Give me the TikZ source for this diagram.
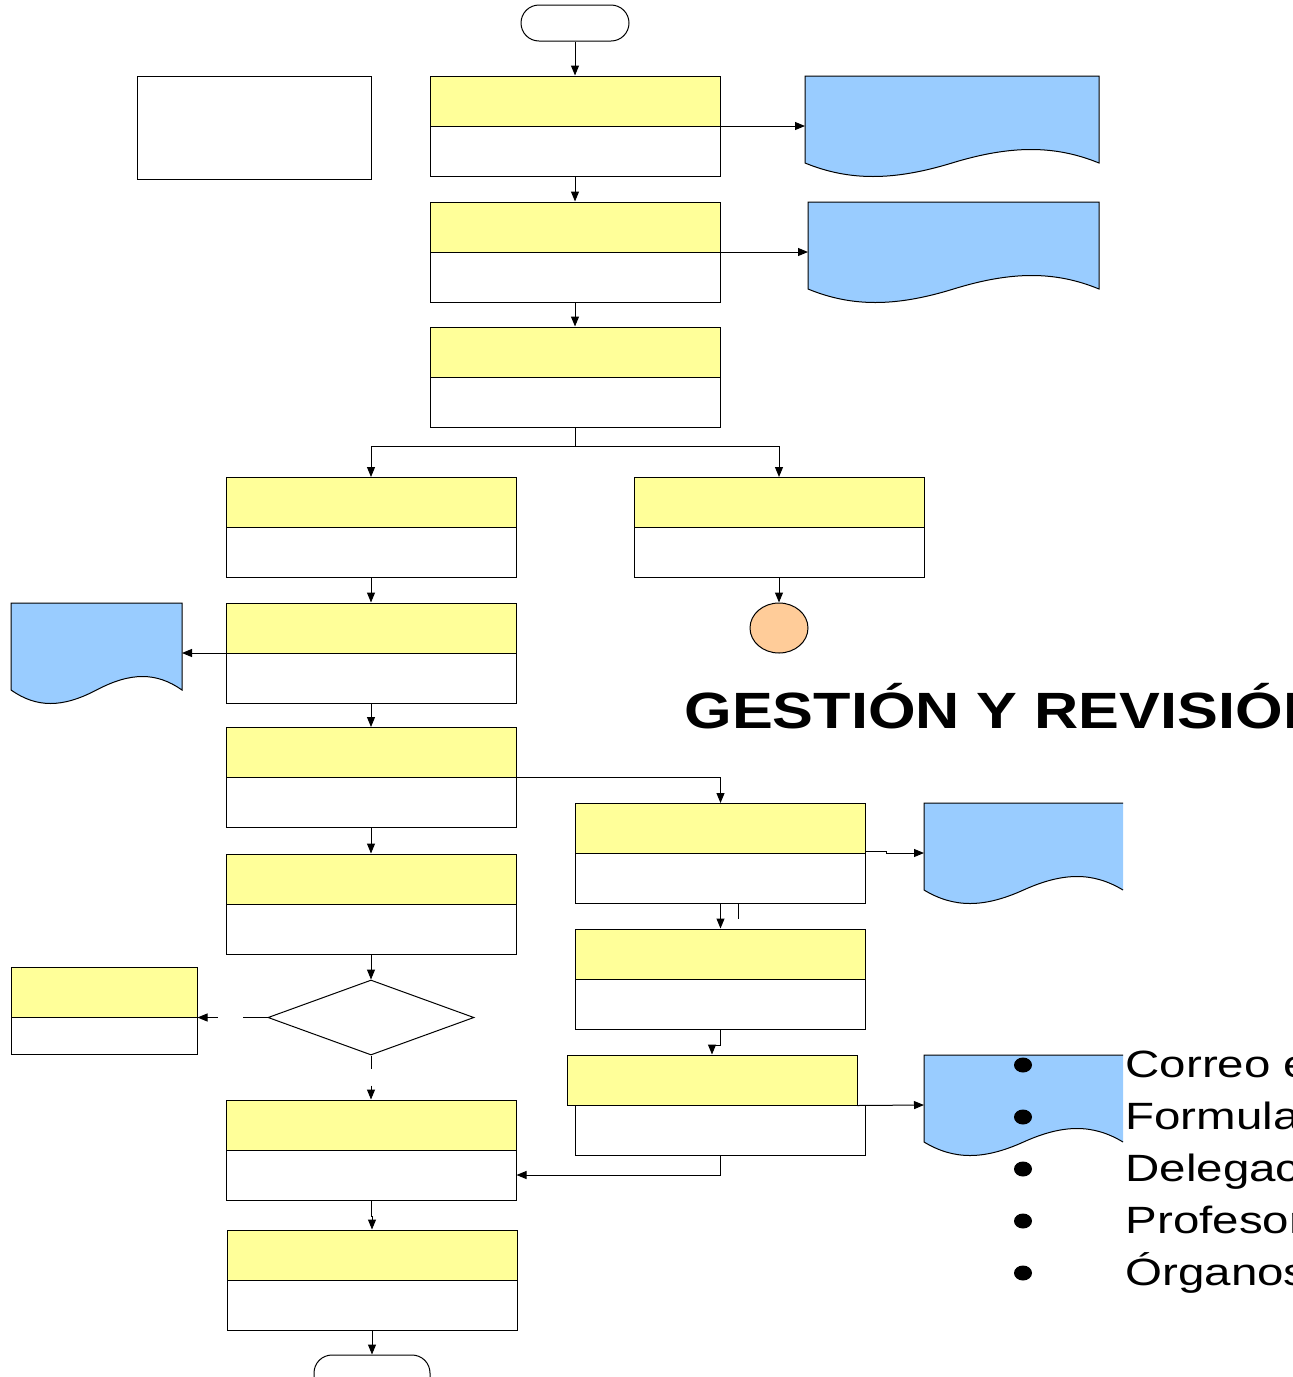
\documentclass[tikz,border=0pt]{standalone}
\usepackage{fontspec}
\setmainfont{Liberation Sans}
\newfontfamily\titlefont[FakeStretch=1.2]{Liberation Sans}
\newfontfamily\bulletfont[FakeStretch=1.25]{Liberation Sans}
\usetikzlibrary{arrows.meta,shapes.geometric,calc}
\definecolor{ylw}{HTML}{FFFF99}
\definecolor{blu}{HTML}{99CCFF}
\definecolor{org}{HTML}{FFCC99}
% document shape: x1 y1 x2 y2 closing name
\newcommand\docshape[6]{%
  \filldraw[docsty] (#3,{#4-13}) .. controls ({#1+0.85*(#3-#1)},{#4-31}) and ({#1+0.7*(#3-#1)},{#4-31}) .. ({(#1+#3)/2},{#4-13}) .. controls ({#1+0.3*(#3-#1)},{#4+5}) and ({#1+0.15*(#3-#1)},{#4+5}) .. (#1,{#4-13}) -- (#1,#2) -- (#3,#2) #5;
  \node[docn, minimum width={#3-#1}, minimum height={#4-#2}] (#6) at ({(#1+#3)/2},{(#2+#4)/2}) {};}
\begin{document}
\begin{tikzpicture}[x=1pt,y=-1pt,line width=1pt,
  arr/.style={-{Triangle[length=10pt,width=8pt]}},
  proc/.style={draw, fill=white, inner sep=0pt, minimum width=290pt, minimum height=100pt,
    path picture={\fill[ylw] (path picture bounding box.north west) rectangle ([yshift=-#1]path picture bounding box.north east);
      \draw[line width=1pt] ([yshift=-#1]path picture bounding box.north west) -- ([yshift=-#1]path picture bounding box.north east);}},
  proc/.default=50pt,
  term/.style={draw, fill=white, rounded corners=18pt, inner sep=0pt},
  wbox/.style={draw, fill=white, inner sep=0pt},
  docn/.style={inner sep=0pt, outer sep=0pt},
  docsty/.style={fill=blu, draw=black, line width=1pt},
]
\useasboundingbox (0,0) rectangle (1293,1377);
\clip (0,0) rectangle (1293,1377);

% documents
\docshape{805}{76}{1099}{176}{-- cycle}{d1}
\docshape{808}{202}{1099}{302}{-- cycle}{d2}
\docshape{11}{603}{182}{703}{-- cycle}{d3}
\docshape{924}{803}{1123}{903}{}{d4}
\docshape{924}{1055}{1123}{1155}{}{d5}

% nodes
\node[term, minimum width=108pt, minimum height=36pt] (start) at (575,23) {};
\node[wbox, minimum width=234pt, minimum height=103pt] (lw) at (254,127.5) {};
\node[proc] (b1) at (575,126) {};
\node[proc] (b2) at (575,252) {};
\node[proc] (b3) at (575,377) {};
\node[proc] (b4l) at (371,527.5) {};
\node[proc] (b4r) at (779,527.5) {};
\node[draw, fill=org, ellipse, minimum width=58pt, minimum height=50pt, inner sep=0pt] (circ) at (779,628) {};
\node[proc] (b5) at (371,653) {};
\node[proc] (b6) at (371,777.5) {};
\node[proc] (b7) at (720.5,853.5) {};
\node[proc] (b8) at (720.5,979) {};
\node[draw, fill=ylw, inner sep=0pt, minimum width=290pt, minimum height=50pt] (b9y) at (712,1080) {};
\node[wbox, minimum width=290pt, minimum height=50pt] (b9w) at (720.5,1130) {};
\node[proc] (bl) at (371,904) {};
\node[draw, fill=white, diamond, aspect=2.75, minimum width=206pt, minimum height=75pt, inner sep=0pt] (dia) at (371,1017.5) {};
\node[proc=50pt, minimum width=186pt, minimum height=87pt] (lb) at (104,1010.5) {};
\node[proc] (b10) at (371,1150) {};
\node[proc] (b11) at (372,1280) {};
\node[term, minimum width=116pt, minimum height=40pt] (end) at (372,1375) {};

% connectors
\draw[arr] (start.south) -- (b1.north);
\draw[arr] (b1.south) -- (b2.north);
\draw[arr] (b2.south) -- (b3.north);
\draw[arr] (b1.east) -- (d1.west);
\draw[arr] (b2.east) -- (d2.west);
\draw[arr] (b3.south) -- ++(0,19) -| (b4l.north);
\draw[arr] (b3.south) -- ++(0,19) -| (b4r.north);
\draw[arr] (b4r.south) -- (circ.north);
\draw[arr] (b4l.south) -- (b5.north);
\draw[arr] (b5.west) -- (d3.east);
\draw[arr] (b5.south) -- (b6.north);
\draw[arr] (b6.east) -| (b7.north);
\draw[arr] (b6.south) -- (bl.north);
\draw[arr] ([yshift=2pt]b7.east) -- ++(20,0) |- (d4.west);
\draw ([xshift=18pt]b7.south) -- ++(0,15);
\draw[arr] (b7.south) -- (b8.north);
\draw[arr] (b8.south) -- ++(0,16) -| (b9y.north);
\draw[arr] (b9y.south east) -- (d5.west);
\draw[arr] (b9w.south) |- ([yshift=-25pt]b10.east);
\draw[arr] (bl.south) -- (dia.north);
\draw (dia.west) -- ++(-25,0);
\draw[arr] ([xshift=-50pt]dia.west) -- (dia.west -| lb.east);
\draw (dia.south) -- ++(0,13);
\draw[arr] ([yshift=-30pt]dia.south) -- (b10.north);
\draw[arr] (b10.south) -- ++(0,16) -| (b11.north);
\draw[arr] (b11.south) -- (end.north);

% texts
\node[anchor=base west, inner sep=0pt, font=\titlefont\bfseries\fontsize{51}{51}\selectfont] (title) at (684,728) {GESTIÓN Y REVISIÓN};
\foreach \t [count=\i] in {Correo electrónico, Formulario, Delegación, Profesores, Órganos} {
  \fill (1023,{1013+52*\i}) ellipse [x radius=9pt, y radius=7.5pt];
  \node[anchor=base west, inner sep=0pt, font=\bulletfont\fontsize{38}{38}\selectfont] (item\i) at (1125,{1025+52*\i}) {\t};
}
\end{tikzpicture}
\end{document}
